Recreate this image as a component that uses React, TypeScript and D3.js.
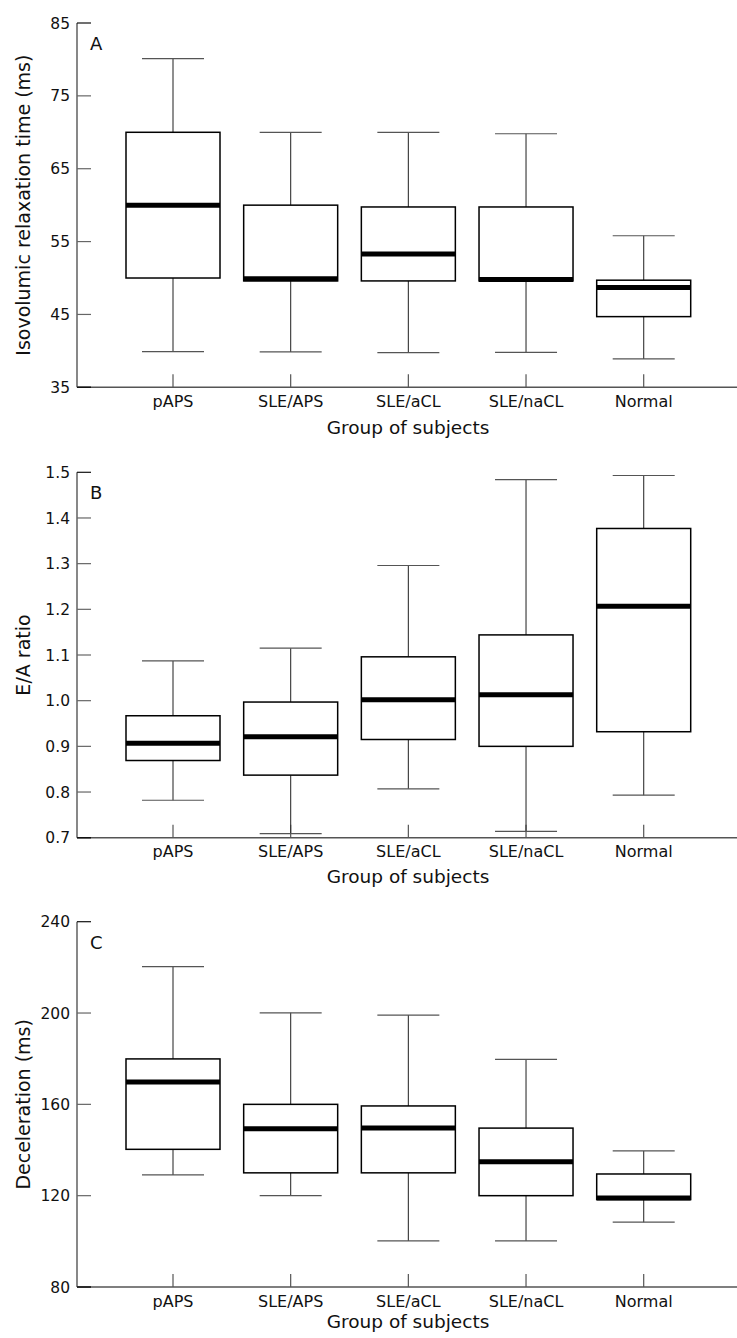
import React from "react";
import * as d3 from "d3";

const categories = ["pAPS", "SLE/APS", "SLE/aCL", "SLE/naCL", "Normal"];

// Panel A: Isovolumic relaxation time (ms)
const ivrtLow = [39.9, 39.85, 39.75, 39.8, 38.9];
const ivrtQ1 = [50, 49.6, 49.6, 49.6, 44.7];
const ivrtMedian = [60, 49.9, 53.3, 49.8, 48.7];
const ivrtQ3 = [70, 60, 59.75, 59.75, 49.7];
const ivrtHigh = [80.1, 70, 70, 69.8, 55.8];
const ivrtTicks = [35, 45, 55, 65, 75, 85];

// Panel B: E/A ratio
const eaLow = [0.782, 0.709, 0.807, 0.714, 0.793];
const eaQ1 = [0.869, 0.837, 0.915, 0.9, 0.932];
const eaMedian = [0.907, 0.921, 1.002, 1.013, 1.207];
const eaQ3 = [0.967, 0.997, 1.096, 1.144, 1.377];
const eaHigh = [1.087, 1.115, 1.296, 1.484, 1.493];
const eaTicks = [0.7, 0.8, 0.9, 1.0, 1.1, 1.2, 1.3, 1.4, 1.5];

// Panel C: Deceleration (ms)
const decLow = [129.1, 120, 100.2, 100.2, 108.4];
const decQ1 = [140.3, 130, 130, 120, 118.3];
const decMedian = [169.8, 149.3, 149.6, 134.9, 119];
const decQ3 = [179.9, 160, 159.3, 149.6, 129.5];
const decHigh = [220.3, 200.1, 199.1, 179.7, 139.6];
const decTicks = [80, 120, 160, 200, 240];

const FONT = "'DejaVu Sans', Verdana, sans-serif";
const AXIS_X = 77;
const RIGHT = 737;
const BOX_W = 94;
const CAP_W = 62;

interface PanelProps {
  letter: string;
  title: string;
  domain: [number, number];
  range: [number, number];
  ticks: number[];
  fmt: (v: number) => string;
  low: number[];
  q1: number[];
  med: number[];
  q3: number[];
  high: number[];
  groupY: number;
}

function Panel(p: PanelProps) {
  const y = d3.scaleLinear().domain(p.domain).range(p.range);
  const x = d3.scalePoint<string>().domain(categories).range([173, 643.7]);
  const y0 = p.range[0];
  const y1 = p.range[1];
  const mid = (y0 + y1) / 2;
  return (
    <g>
      {/* y axis */}
      <line x1={AXIS_X} x2={AXIS_X} y1={y1} y2={y0} stroke="#555" strokeWidth={1.4} />
      {p.ticks.map((t, i) => (
        <g key={"t" + i}>
          <line
            x1={AXIS_X}
            x2={AXIS_X + 14}
            y1={y(t)}
            y2={y(t)}
            stroke={i === p.ticks.length - 1 ? "#111" : "#666"}
            strokeWidth={1.2}
          />
          <text
            x={70}
            y={y(t)}
            dy="0.36em"
            textAnchor="end"
            fontFamily={FONT}
            fontSize={15.5}
            fill="#111"
          >
            {p.fmt(t)}
          </text>
        </g>
      ))}
      {/* x axis */}
      <line x1={AXIS_X} x2={RIGHT} y1={y0} y2={y0} stroke="#555" strokeWidth={1.4} />
      <line x1={AXIS_X} x2={AXIS_X + 14} y1={y0} y2={y0} stroke="#111" strokeWidth={1.4} />
      {categories.map((c) => (
        <g key={"c" + c}>
          <line x1={x(c)!} x2={x(c)!} y1={y0} y2={y0 - 13} stroke="#555" strokeWidth={1.2} />
          <text
            x={x(c)!}
            y={y0 + 19.5}
            textAnchor="middle"
            fontFamily={FONT}
            fontSize={16}
            fill="#111"
          >
            {c}
          </text>
        </g>
      ))}
      {/* boxes */}
      {categories.map((c, i) => {
        const cx = x(c)!;
        return (
          <g key={"b" + c}>
            <line x1={cx} x2={cx} y1={y(p.high[i])} y2={y(p.q3[i])} stroke="#333" strokeWidth={1.1} />
            <line x1={cx} x2={cx} y1={y(p.q1[i])} y2={y(p.low[i])} stroke="#333" strokeWidth={1.1} />
            <line
              x1={cx - CAP_W / 2}
              x2={cx + CAP_W / 2}
              y1={y(p.high[i])}
              y2={y(p.high[i])}
              stroke="#555"
              strokeWidth={1.2}
            />
            <line
              x1={cx - CAP_W / 2}
              x2={cx + CAP_W / 2}
              y1={y(p.low[i])}
              y2={y(p.low[i])}
              stroke="#555"
              strokeWidth={1.2}
            />
            <rect
              x={cx - BOX_W / 2}
              y={y(p.q3[i])}
              width={BOX_W}
              height={y(p.q1[i]) - y(p.q3[i])}
              fill="#fff"
              stroke="#000"
              strokeWidth={1.5}
            />
            <line
              x1={cx - BOX_W / 2}
              x2={cx + BOX_W / 2}
              y1={y(p.med[i])}
              y2={y(p.med[i])}
              stroke="#000"
              strokeWidth={5}
            />
          </g>
        );
      })}
      {/* panel letter */}
      <text x={90} y={y1 + 27} fontFamily={FONT} fontSize={18} fill="#111">
        {p.letter}
      </text>
      {/* y title */}
      <text
        transform={`translate(29.5,${mid}) rotate(-90)`}
        textAnchor="middle"
        fontFamily={FONT}
        fontSize={19}
        fill="#111"
      >
        {p.title}
      </text>
      {/* x title */}
      <text
        x={408}
        y={p.groupY}
        textAnchor="middle"
        fontFamily={FONT}
        fontSize={18.5}
        fill="#111"
      >
        Group of subjects
      </text>
    </g>
  );
}

export default function App() {
  const f0 = (v: number) => d3.format("d")(v);
  const f1 = (v: number) => d3.format(".1f")(v);
  return (
    <div style={{ position: "absolute", left: 0, top: 0 }}>
      <svg width={737} height={1338} style={{ display: "block", background: "#fff" }}>
        <Panel
          letter="A"
          title="Isovolumic relaxation time (ms)"
          domain={[35, 85]}
          range={[387.3, 23]}
          ticks={ivrtTicks}
          fmt={f0}
          low={ivrtLow}
          q1={ivrtQ1}
          med={ivrtMedian}
          q3={ivrtQ3}
          high={ivrtHigh}
          groupY={434}
        />
        <Panel
          letter="B"
          title="E/A ratio"
          domain={[0.7, 1.5]}
          range={[837.7, 472.3]}
          ticks={eaTicks}
          fmt={f1}
          low={eaLow}
          q1={eaQ1}
          med={eaMedian}
          q3={eaQ3}
          high={eaHigh}
          groupY={883}
        />
        <Panel
          letter="C"
          title="Deceleration (ms)"
          domain={[80, 240]}
          range={[1287, 921.7]}
          ticks={decTicks}
          fmt={f0}
          low={decLow}
          q1={decQ1}
          med={decMedian}
          q3={decQ3}
          high={decHigh}
          groupY={1328}
        />
      </svg>
    </div>
  );
}
